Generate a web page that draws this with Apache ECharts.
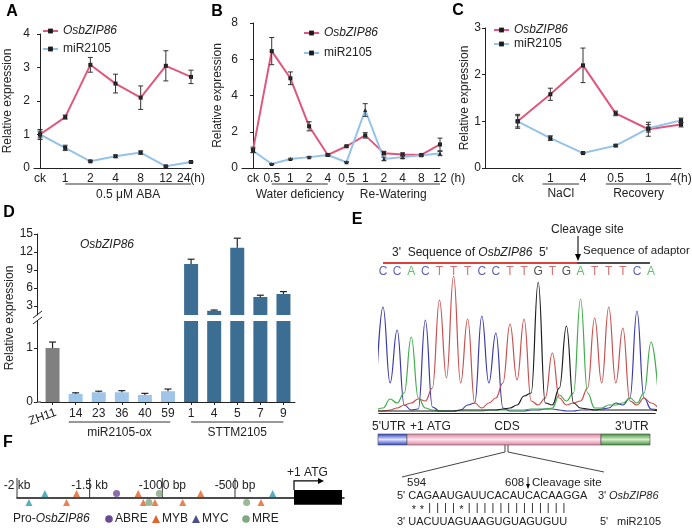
<!DOCTYPE html>
<html><head><meta charset="utf-8">
<script src="https://cdn.jsdelivr.net/npm/echarts@6/dist/echarts.min.js"></script>
<style>html,body{margin:0;padding:0;background:#fff;}#c{width:692px;height:528px;}</style>
</head><body><div id="c"></div>
<script>
// ---------------- DATA ----------------
const labelsA = ['ck','1','2','4','8','12','24(h)'];
const geneA = [1.00,1.52,3.08,2.52,2.10,3.05,2.72];
const geneErrA = [0.15,0.06,0.22,0.28,0.35,0.45,0.20];
const mirA = [1.00,0.60,0.20,0.35,0.46,0.05,0.18];
const mirErrA = [0.10,0.08,0.02,0.04,0.05,0.02,0.02];
const groupsA = [{text:'0.5 μM ABA', from:1, to:6}];

const labelsB = ['ck','0.5','1','2','4','0.5','1','2','4','8','12'];
const geneB = [1.00,6.45,4.95,2.30,0.72,1.20,1.80,0.82,0.75,0.72,1.30];
const geneErrB = [0.15,0.75,0.35,0.25,0.05,0.05,0.15,0.10,0.08,0.05,0.35];
const mirB = [0.95,0.22,0.50,0.60,0.72,0.32,3.20,0.50,0.60,0.70,0.80];
const mirErrB = [0.10,0.03,0.04,0.04,0.05,0.03,0.35,0.10,0.08,0.05,0.12];
const groupsB = [{text:'Water deficiency', from:1, to:4},{text:'Re-Watering', from:5, to:10}];

const labelsC = ['','ck','1','4','0.5','1','4(h)'];
const geneC = [1.00,1.58,2.20,1.17,0.83,0.93];
const geneErrC = [0.15,0.13,0.37,0.05,0.15,0.05];
const mirC = [1.00,0.64,0.32,0.48,0.85,1.02];
const mirErrC = [0.12,0.05,0.01,0.02,0.08,0.05];
const groupsC = [{text:'NaCl', from:1.76, to:2.88},{text:'Recovery', from:3.7, to:5.7}];

const labelsD = ['ZH11','14','23','36','40','59','1','4','5','7','9'];
const valsD = [1.00,0.15,0.18,0.18,0.13,0.20,10.0,2.2,12.7,4.5,5.0];
const errD = [0.11,0.02,0.02,0.03,0.03,0.04,0.8,0.13,1.6,0.3,0.4];
const groupOfD = [0,1,1,1,1,1,2,2,2,2,2];
const groupsD = [{text:'miR2105-ox', from:0.7, to:5.1},{text:'STTM2105', from:6, to:10}];
const upperTicksD = [3,6,9,12,15];
const lowerTicksD = [0,1];

const bases = 'CCACTTTCCTTGTGATTTCA';
// chromatogram trace heights at half-base steps (-0.5 .. 19.5)
const traceC = [20,106,30,83,8,3,4,93,6,2,2,2,3,8,10,97,30,80,5,2,2,2,3,3,4,4,3,2,2,3,3,3,4,5,10,8,15,102,15,4,3];
const traceT = [2,2,3,5,8,10,14,12,25,113,35,137,30,94,10,5,10,15,30,89,33,94,12,8,15,60,15,8,10,12,25,95,30,106,30,85,12,8,15,10,5];
const traceA = [3,5,14,10,20,76,15,5,3,2,2,2,2,2,2,2,3,3,3,3,3,3,4,4,4,5,18,12,20,114,20,5,5,8,8,10,15,10,20,71,20];
const traceG = [2,2,2,2,2,2,2,2,2,2,2,2,3,3,3,3,3,3,4,5,8,17,20,131,10,8,25,87,10,5,4,3,3,3,3,3,3,3,3,3,2];

const promoterSites = [
  ['MYC',-1808,1],['MYB',-1590,1],['ABRE',-1315,1],['MYB',-1166,1],['MRE',-1021,1],['MYB',-736,1],['MYC',-241,1],
  ['MYC',-1918,-1],['MYB',-1659,-1],['MYB',-1131,-1],['MRE',-1092,-1],['MYB',-1051,-1],['MYB',-860,-1],['MRE',-420,-1],['MYB',-321,-1]
];
const promoterTicks = [-2000,-1500,-1000,-500];
const promoterTickLabels = ['-2 kb','-1.5 kb','-1000 bp','-500 bp'];
const atgBox = [-94, 236];

// ---------------- STYLE ----------------
const FONT = 'Liberation Sans';
const PINK = '#e0577d', SKY = '#95c3e8', INK = '#222';
const barColors = ['#808080','#9fc5e8','#3c6e94'];
const baseColor = {C:'#3a3aa8', A:'#3fae4a', T:'#c9504f', G:'#1e1e1e'};
const siteStyle = {ABRE:{symbol:'circle', color:'#6b4a94'}, MYB:{symbol:'triangle', color:'#e0632a'}, MYC:{symbol:'triangle', color:'#2f9aab'}, MRE:{symbol:'circle', color:'#7fa87f'}};

const chart = echarts.init(document.getElementById('c'));

function idxX(grid, labels, min, extra){
  const ticks = labels.map((_,i)=>i);
  return Object.assign({type:'value', gridIndex:grid, min, max:labels.length-1,
    axisLine:{show:true, onZero:false, lineStyle:{color:INK, width:1}}, axisTick:{show:false},
    axisLabel:{customValues:ticks, formatter:v=>labels[Math.round(v)], color:INK, fontSize:12, fontFamily:FONT, margin:5},
    splitLine:{show:false}}, extra||{});
}
function valY(grid, min, max, interval, extra){
  return Object.assign({type:'value', gridIndex:grid, min, max, interval,
    axisLine:{show:true, lineStyle:{color:INK}}, axisTick:{show:true, length:3, lineStyle:{color:INK}},
    axisLabel:{color:INK, fontSize:12, fontFamily:FONT, margin:4}, splitLine:{show:false},
    nameTextStyle:{color:INK, fontSize:12, fontFamily:FONT}}, extra||{});
}
function lineSeries(ax, name, vals, off, color, symbol){
  return {type:'line', name, xAxisIndex:ax, yAxisIndex:ax, data: vals.map((v,i)=>[i+off, v]),
    symbol, symbolSize:4, itemStyle:{color:'#1a1a1a'}, lineStyle:{color, width:2}, z:3, silent:true, animation:false};
}
function errSeries(ax, vals, errs, off){
  return {type:'custom', xAxisIndex:ax, yAxisIndex:ax, silent:true, z:5, animation:false,
    encode:{x:0, y:[1,2]},
    data: vals.map((v,i)=>[i+off, v-errs[i], v+errs[i]]),
    renderItem:(p, api)=>{
      const c = api.value(0);
      const hi = api.coord([c, api.value(2)]), lo = api.coord([c, api.value(1)]);
      const w = 2.5, st = {stroke:'#333', lineWidth:1};
      return {type:'group', children:[
        {type:'line', shape:{x1:hi[0],y1:hi[1],x2:lo[0],y2:lo[1]}, style:st},
        {type:'line', shape:{x1:hi[0]-w,y1:hi[1],x2:hi[0]+w,y2:hi[1]}, style:st},
        {type:'line', shape:{x1:lo[0]-w,y1:lo[1],x2:lo[0]+w,y2:lo[1]}, style:st}]};
    }};
}
function barErr(ax){
  return {type:'custom', xAxisIndex:ax, yAxisIndex:ax, silent:true, z:5, clip:true, animation:false,
    encode:{x:0, y:[1,2]},
    data: valsD.map((v,i)=>[i, v, v+errD[i]]),
    renderItem:(p, api)=>{
      const c = api.value(0);
      const hi = api.coord([c, api.value(2)]), lo = api.coord([c, api.value(1)]);
      const st = {stroke:'#222', lineWidth:1.2};
      return {type:'group', children:[
        {type:'line', shape:{x1:hi[0],y1:hi[1],x2:lo[0],y2:lo[1]}, style:st},
        {type:'line', shape:{x1:hi[0]-3.5,y1:hi[1],x2:hi[0]+3.5,y2:hi[1]}, style:st}]};
    }};
}
function legend(left, top, gap){
  return {left, top, orient:'vertical', itemWidth:15, itemHeight:6, itemGap:gap, padding:0, selectedMode:false,
    data:['OsbZIP86','miR2105'],
    formatter: n => n==='OsbZIP86' ? '{i|OsbZIP86}' : n,
    textStyle:{fontFamily:FONT, fontSize:12, color:INK, lineHeight:14, rich:{i:{fontStyle:'italic', fontFamily:FONT, fontSize:12, color:INK}}}};
}
const gridBase = {outerBoundsMode:'none', containLabel:false};

const option = {
  animation:false,
  textStyle:{fontFamily:FONT},
  grid:[
    Object.assign({left:34, top:34, width:157, height:134}, gridBase),
    Object.assign({left:242, top:23, width:198, height:145}, gridBase),
    Object.assign({left:485, top:28, width:196, height:140}, gridBase),
    Object.assign({left:41, top:234, width:254, height:81}, gridBase),
    Object.assign({left:41, top:321, width:254, height:81}, gridBase),
    Object.assign({left:378.8, top:265, width:276.5, height:148}, gridBase),
    Object.assign({left:17, top:480, width:327, height:36}, gridBase)
  ],
  legend:[legend(42,24,4), legend(303,26,6), legend(493,23,0)],
  xAxis:[
    idxX(0, labelsA, -0.24),
    idxX(1, labelsB, -0.59, {name:'(h)', nameLocation:'end', nameGap:7, nameTextStyle:{color:INK, fontSize:12, fontFamily:FONT, verticalAlign:'top', padding:[5,0,0,0]}}),
    idxX(2, labelsC, 0),
    {type:'category', gridIndex:3, data:labelsD.map((_,i)=>'d'+i), show:false, boundaryGap:true},
    {type:'category', gridIndex:4, data:labelsD.map((_,i)=>'d'+i), boundaryGap:true,
      axisLine:{lineStyle:{color:INK}}, axisTick:{show:true, length:3, alignWithLabel:true, lineStyle:{color:INK}},
      axisLabel:{formatter:(v,i)=> i===0 ? '' : labelsD[i], color:INK, fontSize:12, fontFamily:FONT, margin:6, interval:0}},
    {type:'value', gridIndex:5, min:-0.3, max:19.3, axisLine:{show:true, onZero:false, lineStyle:{color:INK, width:1}}, axisTick:{show:false}, axisLabel:{show:false}, splitLine:{show:false}},
    {type:'value', gridIndex:6, min:-2000, max:250,
      axisLine:{show:true, onZero:true, lineStyle:{color:'#111', width:1.5}},
      axisTick:{show:false},
      axisLabel:{show:true, inside:true, margin:24, customValues:promoterTicks, color:INK, fontSize:12, fontFamily:FONT,
        formatter:v => promoterTickLabels[promoterTicks.indexOf(v)] || ''},
      splitLine:{show:false}}
  ],
  yAxis:[
    valY(0, 0, 4, 1, {name:'Relative expression', nameLocation:'middle', nameGap:20}),
    valY(1, 0, 8, 2, {name:'Relative expression', nameLocation:'middle', nameGap:18}),
    valY(2, 0, 3, 1, {name:'Relative expression', nameLocation:'middle', nameGap:12}),
    valY(3, 1.5, 15, null, {offset:4, axisLabel:{customValues:upperTicksD, color:INK, fontSize:12, fontFamily:FONT, margin:4}, axisTick:{show:true, length:3, customValues:upperTicksD, lineStyle:{color:INK}}}),
    valY(4, 0, 1.5, null, {offset:4, axisLabel:{customValues:lowerTicksD, color:INK, fontSize:12, fontFamily:FONT, margin:4}, axisTick:{show:true, length:3, customValues:lowerTicksD, lineStyle:{color:INK}}}),
    {type:'value', gridIndex:5, min:0, max:148, show:false},
    {type:'value', gridIndex:6, min:-4, max:4, show:false}
  ],
  series:[
    lineSeries(0,'OsbZIP86',geneA,0,PINK,'rect'), lineSeries(0,'miR2105',mirA,0,SKY,'rect'),
    errSeries(0,geneA,geneErrA,0), errSeries(0,mirA,mirErrA,0),
    lineSeries(1,'OsbZIP86',geneB,0,PINK,'rect'), lineSeries(1,'miR2105',mirB,0,SKY,'triangle'),
    errSeries(1,geneB,geneErrB,0), errSeries(1,mirB,mirErrB,0),
    lineSeries(2,'OsbZIP86',geneC,1,PINK,'rect'), lineSeries(2,'miR2105',mirC,1,SKY,'rect'),
    errSeries(2,geneC,geneErrC,1), errSeries(2,mirC,mirErrC,1),
    {type:'bar', xAxisIndex:3, yAxisIndex:3, barWidth:14, clip:true, silent:true,
      data: valsD.map((v,i)=>({value:v, itemStyle:{color:barColors[groupOfD[i]]}}))},
    {type:'bar', xAxisIndex:4, yAxisIndex:4, barWidth:14, clip:true, silent:true,
      data: valsD.map((v,i)=>({value:v, itemStyle:{color:barColors[groupOfD[i]]}}))},
    barErr(3), barErr(4),
    ...[['C',traceC],['A',traceA],['T',traceT],['G',traceG]].map(([b,tr]) => ({
      type:'line', xAxisIndex:5, yAxisIndex:5, silent:true, symbol:'none', smooth:0.45, smoothMonotone:'x',
      data: tr.map((h,j)=>[-0.5+0.5*j, h]), lineStyle:{color:baseColor[b], width:1.2}, z:2})),
    {type:'scatter', xAxisIndex:5, yAxisIndex:5, silent:true, symbolSize:1, itemStyle:{color:'transparent'},
      data: bases.split('').map((b,i)=>({value:[i,141], label:{show:true, formatter:b, color:baseColor[b]}})),
      label:{position:'inside', fontSize:12, fontFamily:FONT}},
    {type:'custom', xAxisIndex:6, yAxisIndex:6, silent:true, encode:{x:0, y:1}, data: promoterTicks.map(v=>[v,0]),
      renderItem:(p, api)=>{
        const a = api.coord([api.value(0), 0]);
        return {type:'line', shape:{x1:a[0], y1:a[1], x2:a[0], y2:a[1]-20}, style:{stroke:'#333', lineWidth:1}};
      }},
    {type:'scatter', xAxisIndex:6, yAxisIndex:6, silent:true, z:4,
      data: promoterSites.map(([t,bp,side]) => ({value:[bp, side], symbol:siteStyle[t].symbol, symbolSize:7, itemStyle:{color:siteStyle[t].color}}))},
    {type:'custom', xAxisIndex:6, yAxisIndex:6, silent:true, encode:{x:[0,1]}, data:[atgBox],
      renderItem:(p, api)=>{
        const a = api.coord([api.value(0), 1.8]), b = api.coord([api.value(1), -1.5]);
        return {type:'group', children:[
          {type:'rect', shape:{x:a[0], y:a[1], width:b[0]-a[0], height:b[1]-a[1]}, style:{fill:'#000'}},
          {type:'polyline', shape:{points:[[a[0], a[1]], [a[0], a[1]-9], [a[0]+27, a[1]-9]]}, style:{stroke:'#000', lineWidth:1.2, fill:null}},
          {type:'polygon', shape:{points:[[a[0]+30, a[1]-9], [a[0]+24, a[1]-12], [a[0]+24, a[1]-6]]}, style:{fill:'#000'}},
          {type:'text', x:a[0]-7, y:a[1]-17, style:{text:'+1 ATG', fontFamily:FONT, fontSize:12, fill:INK, align:'left', verticalAlign:'middle'}}
        ]};
      }}
  ]
};
chart.setOption(option);

// ---------------- ANNOTATIONS ----------------
const G = [];
function txt(x, y, text, o){ G.push({type:'text', x, y, silent:true, style:Object.assign({text, fontFamily:FONT, fontSize:12, fill:INK, align:'left', verticalAlign:'middle'}, o||{})}); }
function ln(x1, y1, x2, y2, o){ G.push({type:'line', silent:true, shape:{x1,y1,x2,y2}, style:Object.assign({stroke:INK, lineWidth:1}, o||{})}); }

function groupLabels(gridIndex, groups, ulGap, txGap){
  const p0 = chart.convertToPixel({gridIndex}, [0, 0]);
  const p1 = chart.convertToPixel({gridIndex}, [1, 0]);
  const u = p1[0]-p0[0];
  groups.forEach(g => {
    const xa = p0[0] + u*g.from, xb = p0[0] + u*g.to;
    ln(xa, p0[1]+ulGap, xb, p0[1]+ulGap, {stroke:'#333'});
    txt((xa+xb)/2, p0[1]+txGap, g.text, {align:'center'});
  });
  return p0;
}
groupLabels(0, groupsA, 16, 27);
groupLabels(1, groupsB, 16, 27);
groupLabels(2, groupsC, 16, 26);
const d0 = groupLabels(4, groupsD, 20, 31);
G.push({type:'text', x:d0[0]-10, y:d0[1]+15, rotation:0.35, silent:true,
  style:{text:labelsD[0], fontFamily:FONT, fontSize:12, fill:INK, align:'center', verticalAlign:'middle'}});
// x-axis line continues to the offset y-axis in panel D
ln(37, d0[1], 41, d0[1]);

// panel letters
[['A',12,12],['B',217,12],['C',458,11],['D',9,213],['E',357,220],['F',8,443]].forEach(([t,x,y]) =>
  txt(x, y, t, {fontWeight:'bold', fontSize:16, align:'center', fill:'#000'}));

// panel D extras
txt(107, 245, 'OsbZIP86', {fontStyle:'italic', align:'center'});
G.push({type:'text', x:10, y:318, rotation:Math.PI/2, silent:true,
  style:{text:'Relative expression', fontFamily:FONT, fontSize:12, fill:INK, align:'center', verticalAlign:'middle'}});
ln(33, 318, 42, 311, {lineWidth:1});
ln(33, 324, 42, 317, {lineWidth:1});

// panel E header
txt(551, 230, 'Cleavage site');
ln(578, 236, 578, 256, {lineWidth:1.2});
G.push({type:'polygon', silent:true, shape:{points:[[578,261],[575,254],[581,254]]}, style:{fill:'#000'}});
G.push({type:'text', x:392, y:253, silent:true, style:{text:"3'  Sequence of {i|OsbZIP86}  5'", fontFamily:FONT, fontSize:12, fill:INK, verticalAlign:'middle',
  rich:{i:{fontStyle:'italic', fontFamily:FONT, fontSize:12, fill:INK}}}});
txt(583, 251, 'Sequence of adaptor', {fontSize:11.5});
ln(383, 263, 577, 263, {stroke:'#d8433a', lineWidth:2});
ln(577, 263, 650, 263, {stroke:'#111', lineWidth:1.6});

// gene structure
function grad(edge, mid){ return new echarts.graphic.LinearGradient(0,0,0,1,[{offset:0,color:edge},{offset:0.5,color:mid},{offset:1,color:edge}]); }
G.push({type:'rect', silent:true, shape:{x:378,y:434,width:29,height:11}, style:{fill:grad('#2c3fc4','#dfe4ff'), stroke:'#444', lineWidth:0.6}});
G.push({type:'rect', silent:true, shape:{x:407,y:434,width:194,height:11}, style:{fill:grad('#df7f9f','#fde6ee'), stroke:'#555', lineWidth:0.6}});
G.push({type:'rect', silent:true, shape:{x:601,y:434,width:49,height:11}, style:{fill:grad('#3f8f3a','#d6eecb'), stroke:'#444', lineWidth:0.6}});
txt(372, 427, "5'UTR");
txt(410, 427, '+1 ATG');
txt(507, 427, 'CDS', {align:'center'});
txt(615, 427, "3'UTR");
ln(505, 445, 505, 452, {stroke:'#444'});
ln(508, 445, 508, 452, {stroke:'#444'});
ln(505, 452, 402, 477, {stroke:'#444'});
ln(508, 452, 604, 472, {stroke:'#444'});

// target site alignment
const target = 'CAGAAUGAUUCACAUCACAAGGA';
const mir = 'UACUUAGUAAGUGUAGUGUU';
const pairing = '**||||*|||||||||||||';
txt(407, 483, '594', {fontSize:11.5});
txt(505, 483, '608', {fontSize:11.5});
ln(528, 477, 528, 486, {lineWidth:1});
G.push({type:'polygon', silent:true, shape:{points:[[528,489],[526,484],[530,484]]}, style:{fill:'#000'}});
txt(532, 483, 'Cleavage site', {fontSize:11.5});
txt(397, 496, "5' " + target, {fontSize:11});
txt(598, 496, "3'", {fontSize:11});
txt(609, 496, 'OsbZIP86', {fontSize:11, fontStyle:'italic'});
pairing.split('').forEach((s,i) => txt(410 + (i+0.5)*7.9, s==='*' ? 510 : 508, s, {fontSize:11, align:'center'}));
txt(397, 522, "3' " + mir, {fontSize:11});
txt(600, 522, "5'", {fontSize:11});
txt(617, 522, 'miR2105', {fontSize:11});

// panel F legend
G.push({type:'text', x:13, y:519, silent:true, style:{text:'Pro-{i|OsbZIP86}', fontFamily:FONT, fontSize:12, fill:INK, verticalAlign:'middle',
  rich:{i:{fontStyle:'italic', fontFamily:FONT, fontSize:12, fill:INK}}}});
G.push({type:'circle', silent:true, shape:{cx:109, cy:519, r:3.8}, style:{fill:siteStyle.ABRE.color}});
txt(115, 519, 'ABRE');
G.push({type:'polygon', silent:true, shape:{points:[[156,515],[152,523],[160,523]]}, style:{fill:siteStyle.MYB.color}});
txt(162, 519, 'MYB');
G.push({type:'polygon', silent:true, shape:{points:[[196,515],[192,523],[200,523]]}, style:{fill:'#4a4f86'}});
txt(202, 519, 'MYC');
G.push({type:'circle', silent:true, shape:{cx:246, cy:519, r:3.8}, style:{fill:siteStyle.MRE.color}});
txt(252, 519, 'MRE');

chart.setOption({graphic: G});
</script></body></html>
